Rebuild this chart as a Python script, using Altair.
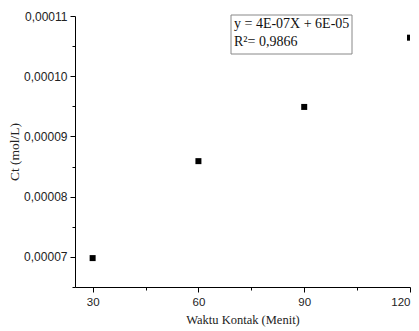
import altair as alt
import pandas as pd

waktu = [30, 60, 90, 120]
ct = [0.0000698, 0.0000859, 0.0000949, 0.0001064]
x_ticks = [30, 45, 60, 75, 90, 105, 120]
y_ticks = [0.000065, 0.00007, 0.000075, 0.00008, 0.000085, 0.00009, 0.000095, 0.0001, 0.000105, 0.00011]
eq_lines = ["y = 4E-07X + 6E-05", "R²= 0,9866"]

df = pd.DataFrame({"waktu": waktu, "ct": ct})

x_enc = alt.X("waktu:Q", scale=alt.Scale(domain=[25, 120], nice=False, zero=False),
              axis=alt.Axis(title="Waktu Kontak (Menit)", values=x_ticks,
                            labelExpr="datum.value % 30 == 0 ? datum.label : ''",
                            tickSize={"condition": {"test": "datum.value % 30 != 0", "value": 3}, "value": 5},
                            grid=False, domainColor="black", tickColor="black",
                            labelFont="Liberation Sans", labelFontSize=11.5, labelColor="#222",
                            titleFont="Liberation Serif", titleFontSize=12.5, titleFontWeight="normal",
                            titleColor="#222", labelPadding=4, titlePadding=6))
y_enc = alt.Y("ct:Q", scale=alt.Scale(domain=[0.000065, 0.00011], nice=False, zero=False),
              axis=alt.Axis(title="Ct (mol/L)", values=y_ticks,
                            labelExpr="round(datum.value*1e6) % 10 == 0 ? replace(format(datum.value, '.5f'), '.', ',') : ''",
                            tickSize={"condition": {"test": "round(datum.value*1e6) % 10 != 0", "value": 3}, "value": 5},
                            grid=False, domainColor="black", tickColor="black",
                            labelFont="Liberation Sans", labelFontSize=12, labelColor="#222",
                            titleFont="Liberation Serif", titleFontSize=13.5, titleFontWeight="normal",
                            titleColor="#222", labelPadding=3, titlePadding=2))

points = alt.Chart(df).mark_point(shape="square", filled=True, color="black", size=36, opacity=1, clip=True).encode(
    x=x_enc, y=y_enc)

box = alt.Chart(pd.DataFrame({"a": [0]})).mark_rect(fill="white", stroke="#888", strokeWidth=1).encode(
    x=alt.value(156), x2=alt.value(277), y=alt.value(-1), y2=alt.value(38))

eq = alt.Chart(pd.DataFrame({"t": eq_lines, "yy": [15, 33]})).mark_text(
    font="Liberation Serif", fontSize=14, align="left", baseline="bottom", color="#111").encode(
    x=alt.value(159), y=alt.Y("yy:Q", scale=None), text="t:N")

chart = alt.layer(points, box, eq).properties(
    width=335, height=271, autosize="none",
    padding={"left": 67, "top": 8, "right": 1, "bottom": 40}
).configure_view(stroke=None)

chart.save("out.html", embed_options={"renderer": "svg", "actions": False})
